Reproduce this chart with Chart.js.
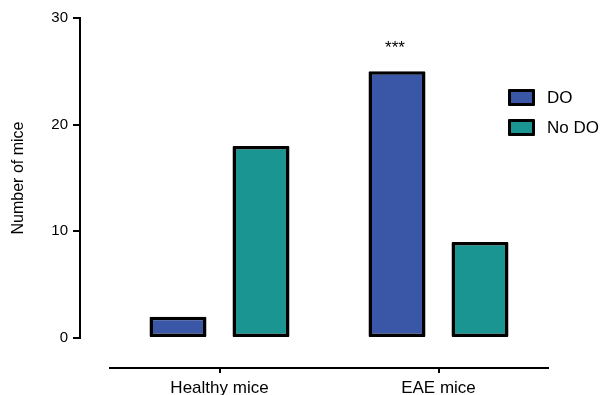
<!DOCTYPE html>
<html>
<head>
<meta charset="utf-8">
<script src="https://cdn.jsdelivr.net/npm/chart.js@4/dist/chart.umd.min.js"></script>
<style>
  html, body { margin: 0; padding: 0; background: #fff; }
  #wrap { position: relative; width: 600px; height: 395px; }
  #legend { position: absolute; left: 508px; top: 89px; font-family: "Liberation Sans", Arial, sans-serif; font-size: 17px; color: #000; }
  .item { position: relative; height: 30px; }
  .box { position: absolute; left: 0; top: 0; width: 27px; height: 17px; box-sizing: border-box; border: 3px solid #000; border-radius: 1px; }
  .lbl { position: absolute; left: 39px; top: -1px; line-height: 19px; white-space: nowrap; }
</style>
</head>
<body>
<div id="wrap">
  <canvas id="myChart" width="600" height="395"></canvas>
  <div id="legend"></div>
</div>
<script>
// data
const categories = ["Healthy mice", "EAE mice"];
const seriesNames = ["DO", "No DO"];
const doValues = [2, 25];
const noDoValues = [18, 9];
const yTicks = [0, 10, 20, 30];
const starLabels = ["", "***"]; // significance marks over the DO bars

const colors = ["#3a56a6", "#1a9591"];
const font = "'Liberation Sans', Arial, sans-serif";

window.onload = function () {
  const ctx = document.getElementById("myChart").getContext("2d");

  // puts the *** above a bar
  const starsPlugin = {
    id: "stars",
    afterDatasetsDraw(chart) {
      const meta = chart.getDatasetMeta(0);
      const c = chart.ctx;
      c.save();
      c.font = "17px " + font;
      c.fillStyle = "#000";
      c.textAlign = "center";
      c.textBaseline = "alphabetic";
      starLabels.forEach((s, i) => {
        if (!s) return;
        const bar = meta.data[i];
        c.fillText(s, bar.x - 2, bar.y - 18);
      });
      c.restore();
    },
  };

  const data = {
    labels: categories,
    datasets: [
      {
        label: seriesNames[0],
        data: doValues,
        backgroundColor: colors[0],
        borderColor: "#000",
        borderWidth: 3.5,
        borderRadius: 1,
        borderSkipped: false,
      },
      {
        label: seriesNames[1],
        data: noDoValues,
        backgroundColor: colors[1],
        borderColor: "#000",
        borderWidth: 3.5,
        borderRadius: 1,
        borderSkipped: false,
      },
    ],
  };

  const config = {
    type: "bar",
    data: data,
    plugins: [starsPlugin],
    options: {
      responsive: false,
      animation: false,
      categoryPercentage: 0.758,
      barPercentage: 0.687,
      layout: { padding: { top: 18, right: 52, left: 0, bottom: 0 } },
      plugins: {
        legend: { display: false },
        tooltip: { enabled: false },
      },
      scales: {
        x: {
          type: "category",
          position: "bottom",
          weight: 1,
          offset: true,
          grid: { display: true, drawOnChartArea: false, offset: false, tickLength: 5, color: "#000", lineWidth: 2 },
          border: { display: true, color: "#000", width: 2 },
          ticks: { color: "#000", font: { size: 17, family: font }, padding: 5, maxRotation: 0 },
          afterFit(scale) { scale.height = 27; },
        },
        // empty band that detaches the x axis from the bars
        xGap: {
          type: "linear",
          position: "bottom",
          weight: 0,
          grid: { display: false },
          border: { display: false },
          ticks: { display: false },
          afterFit(scale) { scale.height = 30; },
        },
        y: {
          type: "linear",
          position: "left",
          weight: 1,
          min: 0,
          max: 30,
          afterBuildTicks(scale) { scale.ticks = yTicks.map(v => ({ value: v })); },
          grid: { display: true, drawOnChartArea: false, tickLength: 7, color: "#000", lineWidth: 2 },
          border: { display: true, color: "#000", width: 2 },
          ticks: { color: "#000", font: { size: 15, family: font }, padding: 5 },
          title: { display: true, text: "Number of mice", color: "#000", font: { size: 16, family: font }, padding: { top: 9, bottom: 0 } },
          afterFit(scale) { scale.width = 80; },
        },
        // empty band that detaches the y axis from the bars
        yGap: {
          type: "linear",
          position: "left",
          weight: 0,
          grid: { display: false },
          border: { display: false },
          ticks: { display: false },
          afterFit(scale) { scale.width = 30; },
        },
      },
    },
  };

  const myChart = new Chart(ctx, config);

  // legend on the right, built from the datasets
  const legend = document.getElementById("legend");
  myChart.data.datasets.forEach(function (ds) {
    const item = document.createElement("div");
    item.className = "item";
    item.innerHTML = '<div class="box" style="background:' + ds.backgroundColor + '"></div><div class="lbl">' + ds.label + "</div>";
    legend.appendChild(item);
  });
};
</script>
</body>
</html>
